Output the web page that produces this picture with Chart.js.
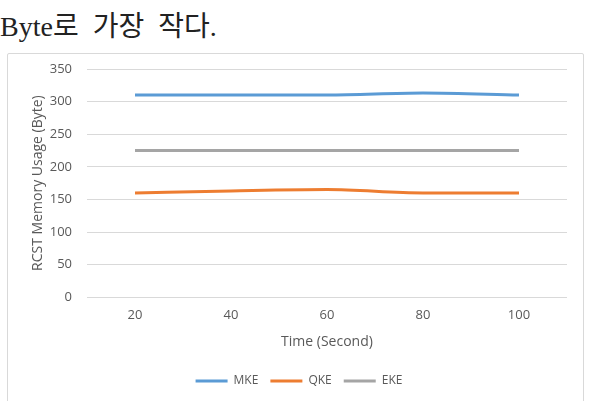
<!DOCTYPE html>
<html>
<head>
<meta charset="utf-8">
<script src="https://cdn.jsdelivr.net/npm/chart.js@4.4.1/dist/chart.umd.min.js"></script>
<style>
  html, body { margin: 0; padding: 0; background: #fff; overflow: hidden; }
  body { width: 589px; height: 401px; position: relative; }
  .caption {
    position: absolute; left: 0; top: 4px;
    font-family: "Liberation Serif", "Noto Sans CJK KR", serif;
    font-size: 28px; color: #222; white-space: nowrap; word-spacing: 7px;
  }
  .frame {
    position: absolute; left: 7px; top: 53px; width: 575px; height: 360px;
    border: 1px solid #d9d9d9; border-radius: 2px; background: #fff;
  }
  .frame canvas { display: block; }
</style>
</head>
<body>
<div class="caption">Byte로 가장 작다.</div>
<div class="frame"><canvas id="memChart" width="575" height="360"></canvas></div>
<script>
// 데이터
const timeLabels = ['20', '40', '60', '80', '100'];
const mkeValues = [310, 310, 310, 313, 310];
const qkeValues = [160, 163, 165, 160, 160];
const ekeValues = [225, 225, 225, 225, 225];

const tickColor = '#595959';
const gridColor = '#d9d9d9';
const fontFamily = '"Open Sans", "Noto Sans", sans-serif';

function makeSet(label, data, color) {
    return {
        label, data,
        borderColor: color, backgroundColor: color,
        borderWidth: 3, pointRadius: 0, pointHoverRadius: 0,
        cubicInterpolationMode: 'monotone', fill: false
    };
}

new Chart(document.getElementById('memChart').getContext('2d'), {
    type: 'line',
    data: {
        labels: timeLabels,
        datasets: [
            makeSet('MKE', mkeValues, '#5b9bd5'),
            makeSet('QKE', qkeValues, '#ed7d31'),
            makeSet('EKE', ekeValues, '#a5a5a5')
        ]
    },
    options: {
        responsive: false,
        animation: false,
        layout: { padding: { left: 23, right: 16, top: 15, bottom: 17 } },
        plugins: {
            tooltip: { enabled: false },
            legend: {
                position: 'bottom',
                labels: {
                    usePointStyle: true, pointStyle: 'line', pointStyleWidth: 32,
                    color: tickColor, padding: 12,
                    font: { family: fontFamily, size: 12 }
                }
            }
        },
        scales: {
            x: {
                offset: true,
                grid: { display: false },
                border: { display: false },
                ticks: { color: tickColor, padding: 2, font: { family: fontFamily, size: 13 } },
                title: { display: true, text: 'Time (Second)', color: tickColor, padding: { top: 8.6, bottom: 12.8 }, font: { family: fontFamily, size: 14 } }
            },
            y: {
                min: 0, max: 350,
                // 눈금 표시는 투명하게, 라벨과 그래프 사이 간격만 확보
                grid: { color: gridColor, drawTicks: true, tickLength: 12, tickColor: 'rgba(0,0,0,0)', lineWidth: 1 },
                border: { display: false },
                ticks: { stepSize: 50, color: tickColor, padding: 3, font: { family: fontFamily, size: 13 } },
                title: { display: true, text: 'RCST Memory Usage (Byte)', color: tickColor, padding: { top: 0, bottom: 8 }, font: { family: fontFamily, size: 14, lineHeight: 1 } },
                afterFit(scale) { scale.width = 56; }
            }
        }
    }
});
</script>
</body>
</html>
